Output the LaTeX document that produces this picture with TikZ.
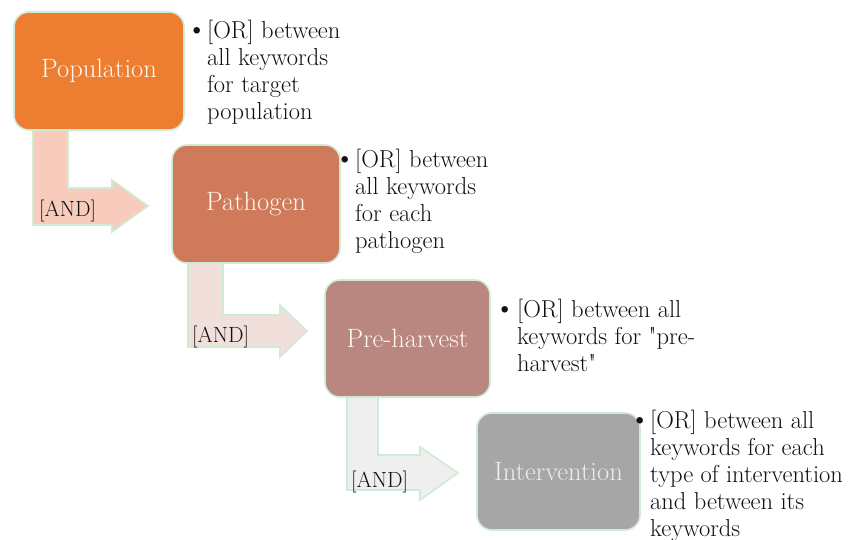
\documentclass[tikz,border=0pt]{standalone}
\definecolor{cPop}{HTML}{ED7D31}
\definecolor{cPat}{HTML}{CF7A5A}
\definecolor{cPre}{HTML}{B9877F}
\definecolor{cInt}{HTML}{A6A6A6}
\definecolor{aOne}{HTML}{F8CCBC}
\definecolor{aTwo}{HTML}{F1DFDC}
\definecolor{aThr}{HTML}{EFEFEF}
\definecolor{edgeG}{HTML}{CFEBD4}
\definecolor{ink}{HTML}{111111}
\definecolor{lblLight}{HTML}{FFF8F0}
\newcommand{\bigbul}[1][0pt]{\llap{{\fontsize{29}{27}\selectfont\textbullet}\hspace{#1}}}
\begin{document}
\begin{tikzpicture}[x=1pt,y=-1pt,
  box/.style={draw=edgeG, line width=1.6pt, rounded corners=15pt, inner sep=0pt,
    font=\fontsize{26.5}{30}\selectfont, text=lblLight},
  bent/.style={draw=edgeG, line width=1.6pt, line join=miter},
  desc/.style={anchor=north west, inner sep=0pt, align=left, text=ink,
    font=\fontsize{24.5}{27}\selectfont},
  andlbl/.style={anchor=base west, inner sep=0pt, text=ink, font=\fontsize{22}{24}\selectfont}]
\useasboundingbox (0,0) rectangle (862,540);
% bent arrows (drawn below the boxes)
\draw[bent, fill=aOne] (33,122) -- (68,122) -- (68,188) -- (112,188) -- (112,180) -- (148,206)
  -- (112,232) -- (112,225) -- (33,225) -- cycle;
\draw[bent, fill=aTwo] (188,256) -- (223,256) -- (223,315) -- (280,315) -- (280,305) -- (307,331)
  -- (280,357) -- (280,347) -- (188,347) -- cycle;
\draw[bent, fill=aThr] (347,390) -- (378,390) -- (378,455) -- (420,455) -- (420,447) -- (458,473)
  -- (420,500) -- (420,490) -- (347,490) -- cycle;
% boxes
\node[box, fill=cPop, minimum width=170pt, minimum height=118pt] (pop) at (99,71) {Population};
\node[box, fill=cPat, minimum width=168pt, minimum height=118pt] (pat) at (256,204) {Pathogen};
\node[box, fill=cPre, minimum width=165pt, minimum height=117pt] (pre) at (407.5,338.5) {Pre-harvest};
\node[box, fill=cInt, minimum width=163pt, minimum height=117pt, text=white!93!black] (int) at (558.5,471.5) {Intervention};
% AND labels
\node[andlbl] (and1) at (39,217) {[AND]};
\node[andlbl] (and2) at (192,342) {[AND]};
\node[andlbl] (and3) at (351,487) {[AND]};
% descriptions
\node[desc] (t1) at (207,19.6) {\bigbul[0pt][OR] between\\all keywords\\for target\\population};
\node[desc] (t2) at (355,148.6) {\bigbul[0pt][OR] between\\all keywords\\for each\\pathogen};
\node[desc] (t3) at (517,298.6) {\bigbul[2pt][OR] between all\\keywords for \textquotedbl pre-\\harvest\textquotedbl};
\node[desc] (t4) at (650,409.6) {\bigbul[0pt][OR] between all\\keywords for each\\type of intervention\\and between its\\keywords};
\end{tikzpicture}
\end{document}
